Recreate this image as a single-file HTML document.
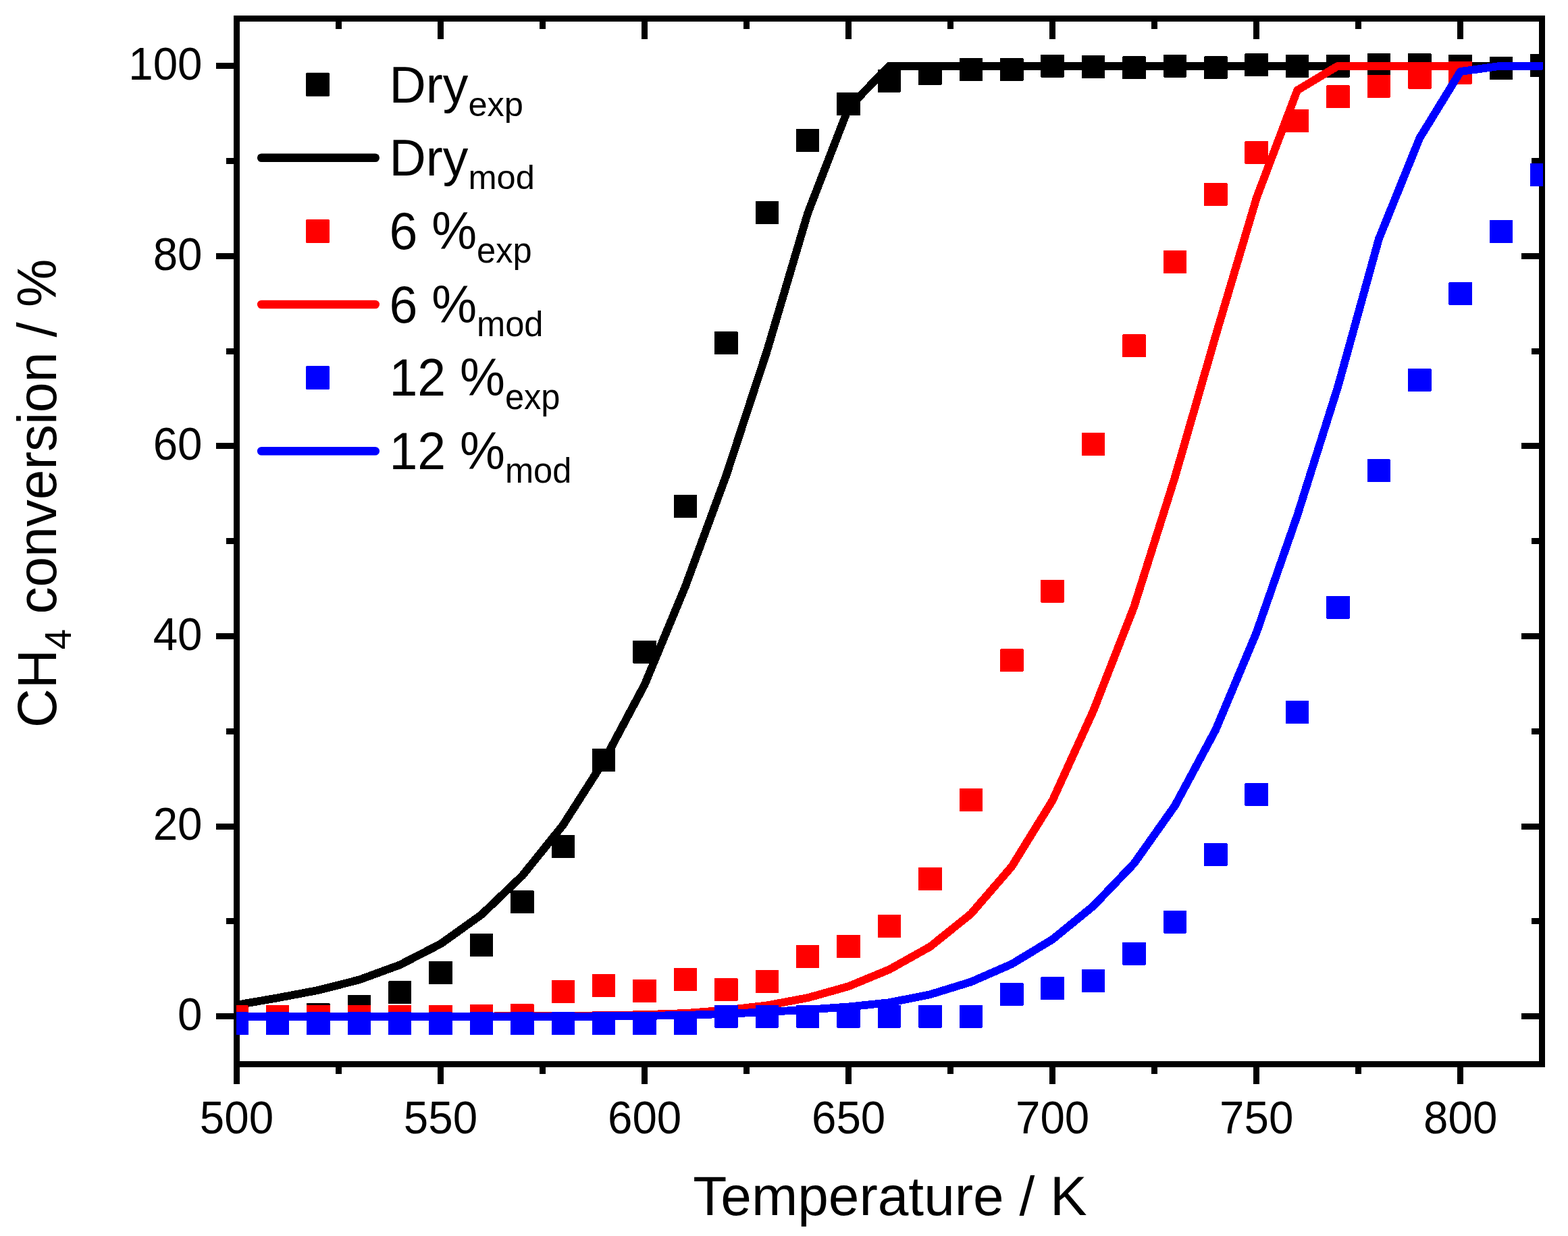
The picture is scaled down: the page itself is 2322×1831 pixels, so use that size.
<!DOCTYPE html>
<html><head><meta charset="utf-8"><title>CH4 conversion vs temperature</title>
<style>
html,body{margin:0;padding:0;background:#fff;}
svg{display:block;}
.crisp{shape-rendering:crispEdges;}
text{font-family:"Liberation Sans",Arial,sans-serif;fill:#000;}
.tl text{font-size:65.5px;}
.lg{font-size:75.2px;}
.sub{font-size:51.5px;}
.at{font-size:82px;}
.ats{font-size:54.5px;}
</style></head><body>
<svg width="2322" height="1831" viewBox="0 0 2322 1831">
<defs><clipPath id="pc"><rect x="350" y="0" width="1935" height="1831"/></clipPath></defs>
<rect width="2322" height="1831" fill="#fff"/>
<g class="crisp"><rect x="346" y="23" width="1942" height="9" fill="#000"/><rect x="346" y="1572" width="1942" height="9" fill="#000"/><rect x="346" y="23" width="9" height="1558" fill="#000"/><rect x="2279" y="23" width="9" height="1558" fill="#000"/><rect x="346.0" y="1581" width="9" height="25" fill="#000"/><rect x="346.0" y="32" width="9" height="26" fill="#000"/><rect x="497.0" y="1581" width="9" height="10" fill="#000"/><rect x="497.0" y="32" width="9" height="11" fill="#000"/><rect x="648.0" y="1581" width="9" height="25" fill="#000"/><rect x="648.0" y="32" width="9" height="26" fill="#000"/><rect x="799.0" y="1581" width="9" height="10" fill="#000"/><rect x="799.0" y="32" width="9" height="11" fill="#000"/><rect x="950.1" y="1581" width="9" height="25" fill="#000"/><rect x="950.1" y="32" width="9" height="26" fill="#000"/><rect x="1101.1" y="1581" width="9" height="10" fill="#000"/><rect x="1101.1" y="32" width="9" height="11" fill="#000"/><rect x="1252.1" y="1581" width="9" height="25" fill="#000"/><rect x="1252.1" y="32" width="9" height="26" fill="#000"/><rect x="1403.1" y="1581" width="9" height="10" fill="#000"/><rect x="1403.1" y="32" width="9" height="11" fill="#000"/><rect x="1554.1" y="1581" width="9" height="25" fill="#000"/><rect x="1554.1" y="32" width="9" height="26" fill="#000"/><rect x="1705.1" y="1581" width="9" height="10" fill="#000"/><rect x="1705.1" y="32" width="9" height="11" fill="#000"/><rect x="1856.2" y="1581" width="9" height="25" fill="#000"/><rect x="1856.2" y="32" width="9" height="26" fill="#000"/><rect x="2007.2" y="1581" width="9" height="10" fill="#000"/><rect x="2007.2" y="32" width="9" height="11" fill="#000"/><rect x="2158.2" y="1581" width="9" height="25" fill="#000"/><rect x="2158.2" y="32" width="9" height="26" fill="#000"/><rect x="320" y="1501.1" width="26" height="9" fill="#000"/><rect x="2253" y="1501.1" width="26" height="9" fill="#000"/><rect x="335" y="1360.3" width="11" height="9" fill="#000"/><rect x="2268" y="1360.3" width="11" height="9" fill="#000"/><rect x="320" y="1219.5" width="26" height="9" fill="#000"/><rect x="2253" y="1219.5" width="26" height="9" fill="#000"/><rect x="335" y="1078.7" width="11" height="9" fill="#000"/><rect x="2268" y="1078.7" width="11" height="9" fill="#000"/><rect x="320" y="937.9" width="26" height="9" fill="#000"/><rect x="2253" y="937.9" width="26" height="9" fill="#000"/><rect x="335" y="797.1" width="11" height="9" fill="#000"/><rect x="2268" y="797.1" width="11" height="9" fill="#000"/><rect x="320" y="656.3" width="26" height="9" fill="#000"/><rect x="2253" y="656.3" width="26" height="9" fill="#000"/><rect x="335" y="515.5" width="11" height="9" fill="#000"/><rect x="2268" y="515.5" width="11" height="9" fill="#000"/><rect x="320" y="374.7" width="26" height="9" fill="#000"/><rect x="2253" y="374.7" width="26" height="9" fill="#000"/><rect x="335" y="233.9" width="11" height="9" fill="#000"/><rect x="2268" y="233.9" width="11" height="9" fill="#000"/><rect x="320" y="93.1" width="26" height="9" fill="#000"/><rect x="2253" y="93.1" width="26" height="9" fill="#000"/></g>
<g class="tl"><text transform="translate(350.5,1679.3) scale(1,1.04)" text-anchor="middle">500</text><text transform="translate(652.5,1679.3) scale(1,1.04)" text-anchor="middle">550</text><text transform="translate(954.6,1679.3) scale(1,1.04)" text-anchor="middle">600</text><text transform="translate(1256.6,1679.3) scale(1,1.04)" text-anchor="middle">650</text><text transform="translate(1558.6,1679.3) scale(1,1.04)" text-anchor="middle">700</text><text transform="translate(1860.7,1679.3) scale(1,1.04)" text-anchor="middle">750</text><text transform="translate(2162.7,1679.3) scale(1,1.04)" text-anchor="middle">800</text><text transform="translate(299.5,1526.0) scale(1,1.04)" text-anchor="end">0</text><text transform="translate(299.5,1244.4) scale(1,1.04)" text-anchor="end">20</text><text transform="translate(299.5,962.8) scale(1,1.04)" text-anchor="end">40</text><text transform="translate(299.5,681.2) scale(1,1.04)" text-anchor="end">60</text><text transform="translate(299.5,399.6) scale(1,1.04)" text-anchor="end">80</text><text transform="translate(299.5,118.0) scale(1,1.04)" text-anchor="end">100</text></g>
<g clip-path="url(#pc)" class="crisp"><g fill="#000"><rect x="333.2" y="1490.0" width="34.5" height="34.0" rx="1"/><rect x="393.7" y="1490.0" width="34.5" height="34.0" rx="1"/><rect x="454.1" y="1486.2" width="34.5" height="34.0" rx="1"/><rect x="514.5" y="1473.5" width="34.5" height="34.0" rx="1"/><rect x="574.9" y="1453.4" width="34.5" height="34.0" rx="1"/><rect x="635.3" y="1424.0" width="34.5" height="34.0" rx="1"/><rect x="695.7" y="1383.3" width="34.5" height="34.0" rx="1"/><rect x="756.1" y="1319.4" width="34.5" height="34.0" rx="1"/><rect x="816.5" y="1236.8" width="34.5" height="34.0" rx="1"/><rect x="876.9" y="1108.7" width="34.5" height="34.0" rx="1"/><rect x="937.3" y="948.6" width="34.5" height="34.0" rx="1"/><rect x="997.7" y="732.9" width="34.5" height="34.0" rx="1"/><rect x="1058.1" y="491.3" width="34.5" height="34.0" rx="1"/><rect x="1118.5" y="297.7" width="34.5" height="34.0" rx="1"/><rect x="1178.9" y="191.1" width="34.5" height="34.0" rx="1"/><rect x="1239.3" y="136.9" width="34.5" height="34.0" rx="1"/><rect x="1299.7" y="102.6" width="34.5" height="34.0" rx="1"/><rect x="1360.2" y="91.9" width="34.5" height="34.0" rx="1"/><rect x="1420.6" y="86.0" width="34.5" height="34.0" rx="1"/><rect x="1481.0" y="86.0" width="34.5" height="34.0" rx="1"/><rect x="1541.4" y="80.6" width="34.5" height="34.0" rx="1"/><rect x="1601.8" y="82.0" width="34.5" height="34.0" rx="1"/><rect x="1662.2" y="83.4" width="34.5" height="34.0" rx="1"/><rect x="1722.6" y="80.5" width="34.5" height="34.0" rx="1"/><rect x="1783.0" y="83.4" width="34.5" height="34.0" rx="1"/><rect x="1843.4" y="79.2" width="34.5" height="34.0" rx="1"/><rect x="1903.8" y="80.7" width="34.5" height="34.0" rx="1"/><rect x="1964.2" y="80.6" width="34.5" height="34.0" rx="1"/><rect x="2024.6" y="79.2" width="34.5" height="34.0" rx="1"/><rect x="2085.0" y="79.2" width="34.5" height="34.0" rx="1"/><rect x="2145.4" y="80.6" width="34.5" height="34.0" rx="1"/><rect x="2205.8" y="83.8" width="34.5" height="34.0" rx="1"/><rect x="2266.2" y="79.9" width="34.5" height="34.0" rx="1"/></g><polyline points="350.5,1488.7 410.9,1478.3 471.3,1466.9 531.7,1451.5 592.1,1429.4 652.5,1398.3 712.9,1355.1 773.3,1297.4 833.7,1222.3 894.2,1127.6 954.6,1014.2 1015.0,868.5 1075.4,704.4 1135.8,520.0 1196.2,315.8 1256.6,159.6 1317.0,97.6 1377.4,97.6 1437.8,97.6 1498.2,97.6 1558.6,97.6 1619.0,97.6 1679.4,97.6 1739.8,97.6 1800.2,97.6 1860.7,97.6 1921.1,97.6 1981.5,97.6 2041.9,97.6 2102.3,97.6 2162.7,97.6 2223.1,97.6 2283.5,97.6" fill="none" stroke="#000" stroke-width="11.8" stroke-linejoin="round" stroke-linecap="round"/><g fill="#ff0000"><rect x="333.2" y="1489.2" width="34.5" height="34.0" rx="1"/><rect x="393.7" y="1488.6" width="34.5" height="34.0" rx="1"/><rect x="454.1" y="1488.6" width="34.5" height="34.0" rx="1"/><rect x="514.5" y="1488.6" width="34.5" height="34.0" rx="1"/><rect x="574.9" y="1488.6" width="34.5" height="34.0" rx="1"/><rect x="635.3" y="1488.6" width="34.5" height="34.0" rx="1"/><rect x="695.7" y="1488.0" width="34.5" height="34.0" rx="1"/><rect x="756.1" y="1486.9" width="34.5" height="34.0" rx="1"/><rect x="816.5" y="1451.7" width="34.5" height="34.0" rx="1"/><rect x="876.9" y="1442.8" width="34.5" height="34.0" rx="1"/><rect x="937.3" y="1450.9" width="34.5" height="34.0" rx="1"/><rect x="997.7" y="1433.8" width="34.5" height="34.0" rx="1"/><rect x="1058.1" y="1449.0" width="34.5" height="34.0" rx="1"/><rect x="1118.5" y="1436.9" width="34.5" height="34.0" rx="1"/><rect x="1178.9" y="1400.0" width="34.5" height="34.0" rx="1"/><rect x="1239.3" y="1385.0" width="34.5" height="34.0" rx="1"/><rect x="1299.7" y="1354.8" width="34.5" height="34.0" rx="1"/><rect x="1360.2" y="1285.0" width="34.5" height="34.0" rx="1"/><rect x="1420.6" y="1167.9" width="34.5" height="34.0" rx="1"/><rect x="1481.0" y="961.4" width="34.5" height="34.0" rx="1"/><rect x="1541.4" y="858.7" width="34.5" height="34.0" rx="1"/><rect x="1601.8" y="640.7" width="34.5" height="34.0" rx="1"/><rect x="1662.2" y="495.3" width="34.5" height="34.0" rx="1"/><rect x="1722.6" y="371.2" width="34.5" height="34.0" rx="1"/><rect x="1783.0" y="270.7" width="34.5" height="34.0" rx="1"/><rect x="1843.4" y="209.0" width="34.5" height="34.0" rx="1"/><rect x="1903.8" y="161.8" width="34.5" height="34.0" rx="1"/><rect x="1964.2" y="126.4" width="34.5" height="34.0" rx="1"/><rect x="2024.6" y="110.6" width="34.5" height="34.0" rx="1"/><rect x="2085.0" y="97.6" width="34.5" height="34.0" rx="1"/><rect x="2145.4" y="90.7" width="34.5" height="34.0" rx="1"/></g><polyline points="350.5,1505.6 410.9,1505.6 471.3,1505.6 531.7,1505.6 592.1,1505.6 652.5,1505.6 712.9,1505.5 773.3,1505.2 833.7,1504.9 894.2,1504.2 954.6,1503.1 1015.0,1501.0 1075.4,1496.4 1135.8,1489.4 1196.2,1478.1 1256.6,1461.2 1317.0,1436.2 1377.4,1402.4 1437.8,1353.8 1498.2,1283.8 1558.6,1185.8 1619.0,1053.2 1679.4,898.8 1739.8,707.3 1800.2,497.5 1860.7,293.3 1921.1,133.8 1981.5,97.6 2041.9,97.6 2102.3,97.6 2162.7,97.6" fill="none" stroke="#ff0000" stroke-width="11.8" stroke-linejoin="round" stroke-linecap="round"/><g fill="#0000ff"><rect x="333.2" y="1499.3" width="34.5" height="34.0" rx="1"/><rect x="393.7" y="1499.3" width="34.5" height="34.0" rx="1"/><rect x="454.1" y="1499.3" width="34.5" height="34.0" rx="1"/><rect x="514.5" y="1499.3" width="34.5" height="34.0" rx="1"/><rect x="574.9" y="1499.3" width="34.5" height="34.0" rx="1"/><rect x="635.3" y="1499.3" width="34.5" height="34.0" rx="1"/><rect x="695.7" y="1499.3" width="34.5" height="34.0" rx="1"/><rect x="756.1" y="1499.3" width="34.5" height="34.0" rx="1"/><rect x="816.5" y="1499.3" width="34.5" height="34.0" rx="1"/><rect x="876.9" y="1499.3" width="34.5" height="34.0" rx="1"/><rect x="937.3" y="1499.3" width="34.5" height="34.0" rx="1"/><rect x="997.7" y="1499.3" width="34.5" height="34.0" rx="1"/><rect x="1058.1" y="1488.6" width="34.5" height="34.0" rx="1"/><rect x="1118.5" y="1488.6" width="34.5" height="34.0" rx="1"/><rect x="1178.9" y="1488.6" width="34.5" height="34.0" rx="1"/><rect x="1239.3" y="1488.6" width="34.5" height="34.0" rx="1"/><rect x="1299.7" y="1488.6" width="34.5" height="34.0" rx="1"/><rect x="1360.2" y="1488.6" width="34.5" height="34.0" rx="1"/><rect x="1420.6" y="1488.6" width="34.5" height="34.0" rx="1"/><rect x="1481.0" y="1455.8" width="34.5" height="34.0" rx="1"/><rect x="1541.4" y="1447.2" width="34.5" height="34.0" rx="1"/><rect x="1601.8" y="1435.8" width="34.5" height="34.0" rx="1"/><rect x="1662.2" y="1395.7" width="34.5" height="34.0" rx="1"/><rect x="1722.6" y="1348.5" width="34.5" height="34.0" rx="1"/><rect x="1783.0" y="1249.1" width="34.5" height="34.0" rx="1"/><rect x="1843.4" y="1160.1" width="34.5" height="34.0" rx="1"/><rect x="1903.8" y="1037.9" width="34.5" height="34.0" rx="1"/><rect x="1964.2" y="882.5" width="34.5" height="34.0" rx="1"/><rect x="2024.6" y="680.4" width="34.5" height="34.0" rx="1"/><rect x="2085.0" y="546.2" width="34.5" height="34.0" rx="1"/><rect x="2145.4" y="418.0" width="34.5" height="34.0" rx="1"/><rect x="2205.8" y="326.3" width="34.5" height="34.0" rx="1"/><rect x="2266.2" y="241.8" width="34.5" height="34.0" rx="1"/></g><polyline points="350.5,1505.6 410.9,1505.6 471.3,1505.6 531.7,1505.6 592.1,1505.6 652.5,1505.6 712.9,1505.6 773.3,1505.6 833.7,1505.6 894.2,1505.6 954.6,1504.9 1015.0,1503.9 1075.4,1501.9 1135.8,1499.1 1196.2,1495.7 1256.6,1491.5 1317.0,1485.2 1377.4,1473.2 1437.8,1454.6 1498.2,1428.2 1558.6,1391.6 1619.0,1342.3 1679.4,1279.1 1739.8,1193.7 1800.2,1081.2 1860.7,937.0 1921.1,763.6 1981.5,572.1 2041.9,353.9 2102.3,204.6 2162.7,106.0 2223.1,97.6 2283.5,97.6" fill="none" stroke="#0000ff" stroke-width="11.8" stroke-linejoin="round" stroke-linecap="round"/></g>
<rect x="453" y="107.7" width="35" height="35" rx="1.5" fill="#000"/><text transform="translate(576.5,151.8) scale(1,1.0)" class="lg">Dry<tspan class="sub" dy="20.00" style="font-size:50.6px">exp</tspan></text><line x1="387.2" y1="233.8" x2="555.7" y2="233.8" stroke="#000" stroke-width="12.6" stroke-linecap="round"/><text transform="translate(576.5,260.4) scale(1,1.0)" class="lg">Dry<tspan class="sub" dy="20.00" style="font-size:50.6px">mod</tspan></text><rect x="453" y="324.9" width="35" height="35" rx="1.5" fill="#ff0000"/><text transform="translate(576.5,369.0) scale(1,1.04)" class="lg">6 %<tspan class="sub" dy="19.23" style="font-size:50.6px">exp</tspan></text><line x1="387.2" y1="451.0" x2="555.7" y2="451.0" stroke="#ff0000" stroke-width="12.6" stroke-linecap="round"/><text transform="translate(576.5,477.6) scale(1,1.04)" class="lg">6 %<tspan class="sub" dy="19.23" style="font-size:50.6px">mod</tspan></text><rect x="453" y="542.1" width="35" height="35" rx="1.5" fill="#0000ff"/><text transform="translate(576.5,586.2) scale(1,1.04)" class="lg">12 %<tspan class="sub" dy="19.23" style="font-size:50.6px">exp</tspan></text><line x1="387.2" y1="668.2" x2="555.7" y2="668.2" stroke="#0000ff" stroke-width="12.6" stroke-linecap="round"/><text transform="translate(576.5,694.8) scale(1,1.04)" class="lg">12 %<tspan class="sub" dy="19.23" style="font-size:50.6px">mod</tspan></text>
<text class="at" x="1318" y="1800.2" text-anchor="middle">Temperature / K</text>
<text class="at" style="font-size:80.2px" transform="translate(83,1078) rotate(-90) scale(1,1.02)">CH<tspan class="ats" dy="21.5">4</tspan><tspan dy="-21.5"> conversion / %</tspan></text>
</svg>
</body></html>
